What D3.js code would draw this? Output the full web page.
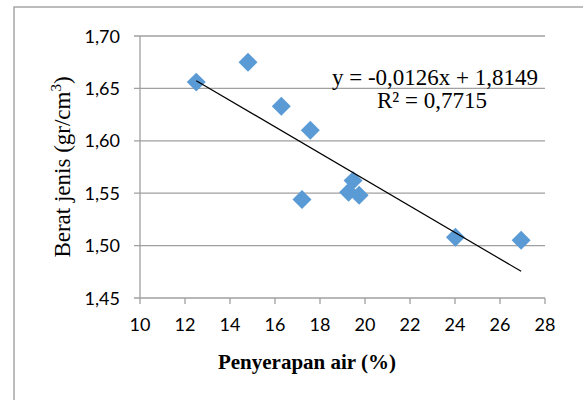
<!DOCTYPE html>
<html>
<head>
<meta charset="utf-8">
<script src="https://cdn.jsdelivr.net/npm/d3@7"></script>
<style>
  body { margin: 0; background: #fff; }
  svg { display: block; }
</style>
</head>
<body>
<script>
// data
var penyerapan = [12.5, 14.8, 16.28, 17.57, 17.2, 19.47, 19.27, 19.74, 24.02, 26.94];
var beratJenis = [1.656, 1.675, 1.633, 1.610, 1.544, 1.562, 1.551, 1.548, 1.508, 1.505];
var xTicks = [10, 12, 14, 16, 18, 20, 22, 24, 26, 28];
var yTicks = [1.45, 1.50, 1.55, 1.60, 1.65, 1.70];
var slope = -0.0126, intercept = 1.8149;
var eqLabel = "y = -0,0126x + 1,8149";
var r2Label = "R² = 0,7715";

var width = 583, height = 400;

var svg = d3.select("body")
    .append("svg")
    .attr("width", width)
    .attr("height", height);

// chart frame (only left & top edges are inside the picture)
svg.append("path")
    .attr("d", "M14,400V7H583")
    .attr("fill", "none")
    .attr("stroke", "#a6a6a6")
    .attr("stroke-width", 1.5);

var x = d3.scaleLinear().domain([10, 28]).range([140, 545]);
var y = d3.scaleLinear().domain([1.45, 1.70]).range([298, 36]);

var fmt = function(d) { return d3.format(".2f")(d).replace(".", ","); };

//gridlines
svg.selectAll(".grid")
    .data(yTicks)
    .enter()
    .append("line")
    .attr("class", "grid")
    .attr("x1", x(10) - 6).attr("x2", x(28))
    .attr("y1", function(d){ return y(d); })
    .attr("y2", function(d){ return y(d); })
    .attr("stroke", "#a0a0a0")
    .attr("stroke-width", 1.3);

//y axis line
svg.append("line")
    .attr("x1", x(10)).attr("x2", x(10))
    .attr("y1", y(1.70)).attr("y2", y(1.45))
    .attr("stroke", "#a0a0a0").attr("stroke-width", 1.3);

//x tick marks
svg.selectAll(".xtick")
    .data(xTicks)
    .enter()
    .append("line")
    .attr("x1", function(d){ return x(d); })
    .attr("x2", function(d){ return x(d); })
    .attr("y1", y(1.45)).attr("y2", y(1.45) + 6)
    .attr("stroke", "#a0a0a0").attr("stroke-width", 1.3);

//tick labels
svg.selectAll(".xlab")
    .data(xTicks)
    .enter()
    .append("text")
    .attr("x", function(d){ return x(d); })
    .attr("y", 331)
    .attr("text-anchor", "middle")
    .attr("font-family", "Lato, sans-serif")
    .attr("font-size", 18)
    .attr("fill", "#000")
    .text(function(d){ return d; });

svg.selectAll(".ylab")
    .data(yTicks)
    .enter()
    .append("text")
    .attr("x", 120)
    .attr("y", function(d){ return y(d) + 6.5; })
    .attr("text-anchor", "end")
    .attr("font-family", "Lato, sans-serif")
    .attr("font-size", 18)
    .attr("fill", "#000")
    .text(fmt);

//points
var pts = penyerapan.map(function(v, i){ return [v, beratJenis[i]]; });
svg.selectAll(".pt")
    .data(pts)
    .enter()
    .append("path")
    .attr("class", "pt")
    .attr("d", d3.symbol().type(d3.symbolSquare).size(180))
    .attr("transform", function(d){
        return "translate(" + x(d[0]) + "," + y(d[1]) + ") rotate(45)";
    })
    .attr("fill", "#5b9bd5");

//trend line
var xMin = d3.min(penyerapan), xMax = d3.max(penyerapan);
svg.append("line")
    .attr("x1", x(xMin)).attr("y1", y(slope * xMin + intercept))
    .attr("x2", x(xMax)).attr("y2", y(slope * xMax + intercept))
    .attr("stroke", "#000").attr("stroke-width", 1.2);

//equation
svg.append("text")
    .attr("x", 435).attr("y", 85)
    .attr("text-anchor", "middle")
    .attr("font-family", "'Liberation Serif', serif")
    .attr("font-size", 23)
    .text(eqLabel);
svg.append("text")
    .attr("x", 432).attr("y", 108)
    .attr("text-anchor", "middle")
    .attr("font-family", "'Liberation Serif', serif")
    .attr("font-size", 23)
    .text(r2Label);

//axis titles
svg.append("text")
    .attr("x", 307).attr("y", 369)
    .attr("text-anchor", "middle")
    .attr("font-family", "'Liberation Serif', serif")
    .attr("font-weight", "bold")
    .attr("font-size", 21)
    .text("Penyerapan air (%)");

var yt = svg.append("text")
    .attr("transform", "translate(70,167) rotate(-90)")
    .attr("text-anchor", "middle")
    .attr("font-family", "'Liberation Serif', serif")
    .attr("font-size", 23);
yt.append("tspan").text("Berat jenis (gr/cm");
yt.append("tspan").attr("dy", -9).attr("font-size", 15).text("3");
yt.append("tspan").attr("dy", 9).text(")");
</script>
</body>
</html>
